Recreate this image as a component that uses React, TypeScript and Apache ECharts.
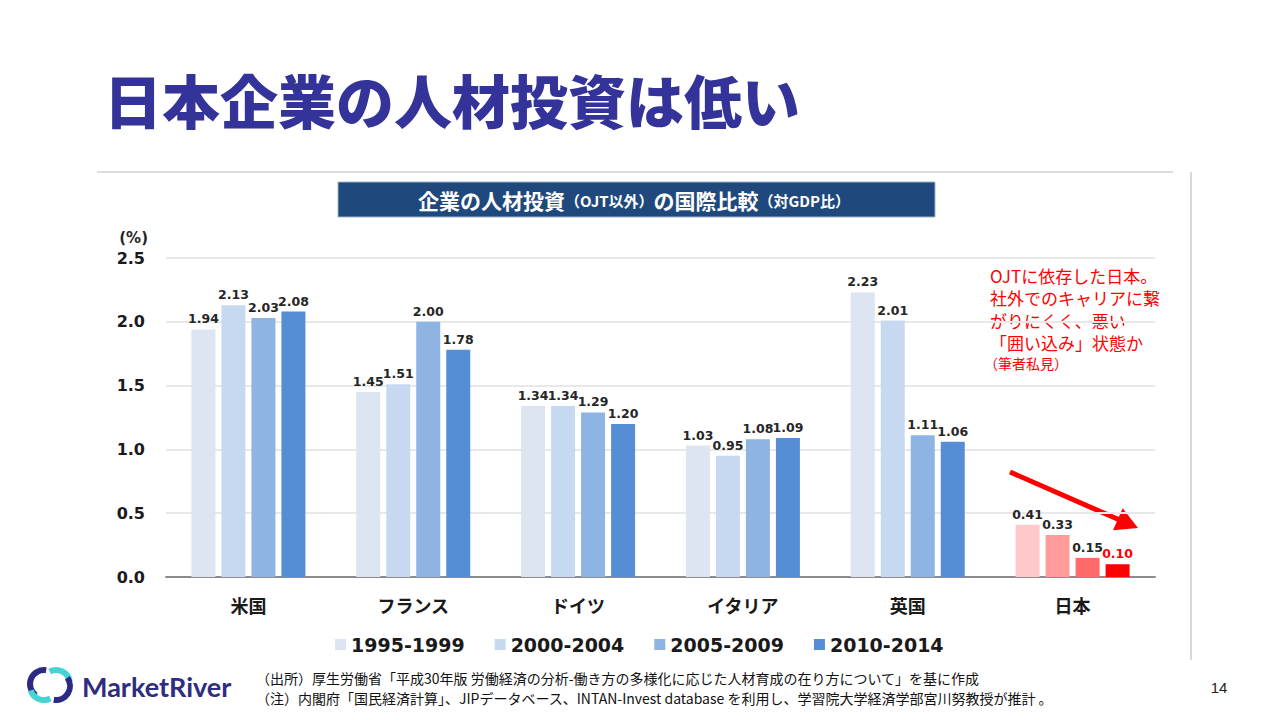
import React, { useEffect, useRef } from "react";
import * as echarts from "echarts";

const categories = ["米国", "フランス", "ドイツ", "イタリア", "英国", "日本"];
const seriesNames = ["1995-1999", "2000-2004", "2005-2009", "2010-2014"];
const v1995 = [1.94, 1.45, 1.34, 1.03, 2.23, 0.41];
const v2000 = [2.13, 1.51, 1.34, 0.95, 2.01, 0.33];
const v2005 = [2.03, 2.0, 1.29, 1.08, 1.11, 0.15];
const v2010 = [2.08, 1.78, 1.2, 1.09, 1.06, 0.1];
const seriesValues = [v1995, v2000, v2005, v2010];
const blueColors = ["#dce5f1", "#c6d9f0", "#8eb4e3", "#558ed5"];
const japanColors = ["#ffc9c9", "#ff9b9b", "#ff6b6b", "#ff0000"];
const yTicks = [0, 0.5, 1.0, 1.5, 2.0, 2.5];
const annotationLines = [
  "OJTに依存した日本。",
  "社外でのキャリアに繋",
  "がりにくく、悪い",
  "「囲い込み」状態か",
];

const NUM_FONT = "'DejaVu Sans', Verdana, sans-serif";
const JP_FONT = "'Noto Sans CJK JP', sans-serif";

export default function App() {
  const ref = useRef<HTMLDivElement>(null);
  useEffect(() => {
    if (!ref.current) return;
    const chart = echarts.init(ref.current, null, { renderer: "svg" });
    const series = seriesNames.map((name, si) => ({
      name,
      type: "bar",
      barWidth: 24,
      barGap: "25%",
      itemStyle: { color: blueColors[si] },
      label: {
        show: true,
        position: "top",
        distance: 4,
        fontFamily: NUM_FONT,
        fontWeight: "bold",
        fontSize: 12.5,
        color: "#262626",
        formatter: (p: any) => Number(p.value).toFixed(2),
      },
      data: seriesValues[si].map((v, ci) =>
        categories[ci] === "日本"
          ? {
              value: v,
              itemStyle: { color: japanColors[si] },
              label: si === 3 ? { color: "#ff0000" } : undefined,
            }
          : v
      ),
    }));

    const tip = [1138, 528];
    const ang = Math.atan2(56, 128);
    const ux = Math.cos(ang), uy = Math.sin(ang);
    const nx = -uy, ny = ux;
    const hl = 22, hw = 12;
    const bx = tip[0] - hl * ux, by = tip[1] - hl * uy;

    const graphics: any[] = [
      {
        type: "text",
        left: 104,
        top: 70,
        style: {
          text: "日本企業の人材投資は低い",
          font: `900 58px ${JP_FONT}`,
          fill: "#333399",
        },
      },
      {
        type: "line",
        shape: { x1: 97, y1: 172, x2: 1173, y2: 172 },
        style: { stroke: "#dddddd", lineWidth: 2 },
      },
      {
        type: "line",
        shape: { x1: 1191, y1: 172, x2: 1191, y2: 660 },
        style: { stroke: "#b0b0b0", lineWidth: 1 },
      },
      {
        type: "rect",
        shape: { x: 338, y: 182, width: 597, height: 35 },
        style: { fill: "#1f497d", stroke: "#9db3cf", lineWidth: 1 },
      },
      {
        type: "text",
        x: 634,
        y: 200,
        style: {
          text: "{a|企業の人材投資}{b|（OJT以外）}{a|の国際比較}{b|（対GDP比）}",
          align: "center",
          verticalAlign: "middle",
          rich: {
            a: { fontFamily: JP_FONT, fontWeight: "bold", fontSize: 21, fill: "#ffffff", color: "#ffffff" },
            b: { fontFamily: JP_FONT, fontWeight: "bold", fontSize: 15, fill: "#ffffff", color: "#ffffff" },
          },
        },
      },
      {
        type: "text",
        x: 148,
        y: 238,
        style: {
          text: "(%)",
          align: "right",
          verticalAlign: "middle",
          font: `bold 15px ${NUM_FONT}`,
          fill: "#262626",
        },
      },
      ...annotationLines.map((t, i) => ({
        type: "text",
        x: 990,
        y: 275 + i * 22.5,
        style: {
          text: t,
          verticalAlign: "middle",
          lineHeight: 20,
          font: `17px ${JP_FONT}`,
          fill: "#ff0000",
        },
      })),
      {
        type: "text",
        x: 984,
        y: 363,
        style: {
          text: "（筆者私見）",
          verticalAlign: "middle",
          lineHeight: 16,
          font: `14px ${JP_FONT}`,
          fill: "#ff0000",
        },
      },
      {
        type: "line",
        shape: { x1: 1010, y1: 472, x2: bx + 2 * ux, y2: by + 2 * uy },
        style: { stroke: "#ff0000", lineWidth: 5 },
      },
      {
        type: "polygon",
        shape: {
          points: [
            [tip[0], tip[1]],
            [bx + hw * nx, by + hw * ny],
            [bx - hw * nx, by - hw * ny],
          ],
        },
        style: { fill: "#ff0000" },
      },
      // logo
      {
        type: "arc",
        shape: { cx: 44, cy: 684, r: 14, startAngle: Math.PI * 0.7, endAngle: Math.PI * 1.55 },
        style: { stroke: "#2d2a86", lineWidth: 6, fill: null },
      },
      {
        type: "arc",
        shape: { cx: 56, cy: 684, r: 14, startAngle: Math.PI * 1.35, endAngle: Math.PI * 1.95 },
        style: { stroke: "#45d3d3", lineWidth: 6, fill: null },
      },
      {
        type: "arc",
        shape: { cx: 44, cy: 686, r: 14, startAngle: Math.PI * 0.35, endAngle: Math.PI * 0.9 },
        style: { stroke: "#45d3d3", lineWidth: 6, fill: null },
      },
      {
        type: "arc",
        shape: { cx: 56, cy: 686, r: 14, startAngle: Math.PI * 1.8, endAngle: Math.PI * 2.55 },
        style: { stroke: "#2d2a86", lineWidth: 6, fill: null },
      },
      {
        type: "text",
        x: 82,
        y: 686,
        style: {
          text: "MarketRiver",
          verticalAlign: "middle",
          font: `bold 27px Lato, 'Open Sans', sans-serif`,
          fill: "#302c80",
        },
      },
      {
        type: "text",
        x: 256,
        y: 678,
        style: {
          text: "（出所）厚生労働省「平成30年版 労働経済の分析-働き方の多様化に応じた人材育成の在り方について」を基に作成",
          verticalAlign: "middle",
          lineHeight: 16,
          font: `14px ${JP_FONT}`,
          fill: "#111111",
        },
      },
      {
        type: "text",
        x: 256,
        y: 698,
        style: {
          text: "（注）内閣府「国民経済計算」、JIPデータベース、INTAN-Invest database を利用し、学習院大学経済学部宮川努教授が推計 。",
          verticalAlign: "middle",
          lineHeight: 16,
          font: `14px ${JP_FONT}`,
          fill: "#111111",
        },
      },
      {
        type: "text",
        x: 1219,
        y: 687,
        style: {
          text: "14",
          align: "center",
          verticalAlign: "middle",
          font: `15px 'Liberation Sans', Arial, sans-serif`,
          fill: "#222222",
        },
      },
    ];

    chart.setOption({
      animation: false,
      backgroundColor: "#ffffff",
      grid: { left: 166, right: 125, top: 258, bottom: 143, containLabel: false },
      legend: {
        data: seriesNames,
        left: 330,
        top: 630,
        itemWidth: 11,
        itemHeight: 11,
        itemGap: 30,
        icon: "rect",
        textStyle: {
          fontFamily: NUM_FONT,
          fontWeight: "bold",
          fontSize: 19,
          color: "#1a1a1a",
        },
      },
      xAxis: {
        type: "category",
        data: categories,
        axisLine: { show: true, lineStyle: { color: "#8c8c8c", width: 2 } },
        axisTick: { show: false },
        axisLabel: {
          margin: 19,
          fontFamily: JP_FONT,
          fontWeight: "bold",
          fontSize: 18,
          color: "#1a1a1a",
        },
      },
      yAxis: {
        type: "value",
        min: yTicks[0],
        max: yTicks[yTicks.length - 1],
        interval: 0.5,
        axisLine: { show: false },
        axisTick: { show: false },
        splitLine: { lineStyle: { color: "#e8e8e8", width: 2 } },
        axisLabel: {
          margin: 21,
          fontFamily: NUM_FONT,
          fontWeight: "bold",
          fontSize: 16,
          color: "#1a1a1a",
          formatter: (v: number) => v.toFixed(1),
        },
      },
      graphic: graphics,
      series,
    });
    return () => chart.dispose();
  }, []);
  return (
    <div
      ref={ref}
      style={{ position: "fixed", left: 0, top: 0, width: 1280, height: 720 }}
    />
  );
}
